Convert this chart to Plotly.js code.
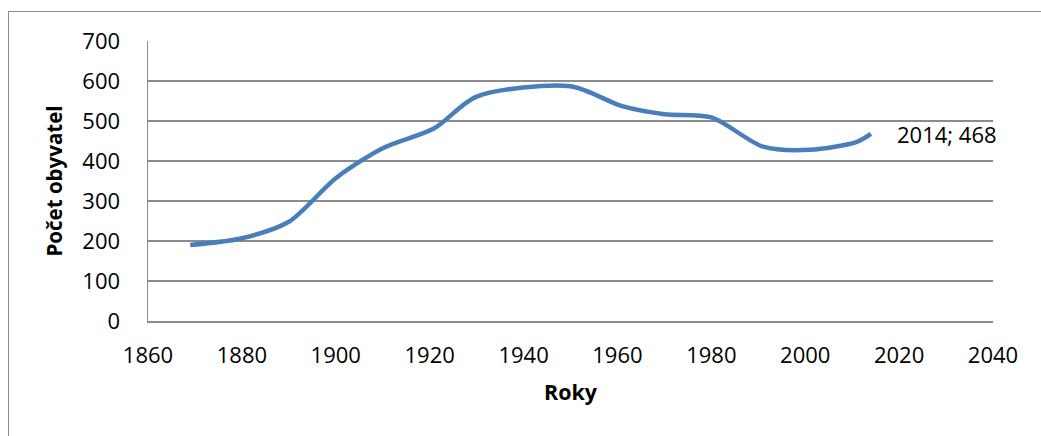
<!DOCTYPE html>
<html>
<head>
<meta charset="utf-8">
<script src="https://cdn.plot.ly/plotly-3.0.1.min.js"></script>
<style>
  html, body { margin: 0; padding: 0; background: #fff; }
  #wrap { position: relative; width: 1041px; height: 436px; overflow: hidden; }
  #chart { position: absolute; left: 0; top: 0; width: 1041px; height: 436px; }
  #frame { position: absolute; left: 8px; top: 11px; width: 1100px; height: 600px;
           border-left: 1.5px solid #8c8c8c; border-top: 1.5px solid #8c8c8c; pointer-events: none; }
</style>
</head>
<body>
<div id="wrap">
  <div id="chart"></div>
  <div id="frame"></div>
</div>
<script>
// Data
const years = [1869, 1880, 1890, 1900, 1910, 1921, 1930, 1950, 1961, 1970, 1980, 1991, 2001, 2011, 2014];
const population = [190, 207, 248, 357, 432, 482, 561, 587, 537, 517, 509, 436, 428, 448, 468];
const xTickValues = [1860, 1880, 1900, 1920, 1940, 1960, 1980, 2000, 2020, 2040];
const yTickValues = [0, 100, 200, 300, 400, 500, 600, 700];
const xTitle = 'Roky';
const yTitle = 'Počet obyvatel';

const lastIdx = years.length - 1;
const FONT = '"Open Sans", "Liberation Sans", sans-serif';

const trace = {
  x: years,
  y: population,
  type: 'scatter',
  mode: 'lines',
  line: { color: '#4a7ebb', width: 4.5, shape: 'spline', smoothing: 0.8 },
  hoverinfo: 'x+y'
};

const layout = {
  width: 1041,
  height: 436,
  autosize: false,
  margin: { l: 148, r: 48, t: 41, b: 115 },
  paper_bgcolor: '#ffffff',
  plot_bgcolor: '#ffffff',
  showlegend: false,
  font: { family: FONT, size: 22, color: '#000' },
  xaxis: {
    range: [1860, 2040],
    tickvals: xTickValues,
    ticktext: xTickValues.map(String),
    showgrid: false,
    zeroline: false,
    showline: true,
    linecolor: '#8c8c8c',
    linewidth: 1.5,
    ticks: '',
    ticklabelstandoff: 14,
    tickfont: { family: FONT, size: 22, color: '#000' },
    title: { text: xTitle, font: { family: FONT, size: 21.5, color: '#000', weight: 'bold' }, standoff: 17 },
    automargin: false
  },
  yaxis: {
    range: [0, 700],
    tickvals: yTickValues,
    ticktext: yTickValues.map(String),
    showgrid: true,
    gridcolor: '#8c8c8c',
    gridwidth: 1.5,
    zeroline: false,
    showline: true,
    linecolor: '#8c8c8c',
    linewidth: 1.5,
    ticks: '',
    ticklabelstandoff: 22,
    tickfont: { family: FONT, size: 22, color: '#000' },
    title: { text: yTitle, font: { family: FONT, size: 20.5, color: '#000', weight: 'bold' }, standoff: 14 },
    automargin: false
  },
  annotations: [{
    x: years[lastIdx],
    y: population[lastIdx],
    xref: 'x',
    yref: 'y',
    text: years[lastIdx] + '; ' + population[lastIdx],
    showarrow: false,
    xanchor: 'left',
    yanchor: 'middle',
    xshift: 24,
    font: { family: FONT, size: 22, color: '#000' }
  }]
};

Plotly.newPlot('chart', [trace], layout, { displayModeBar: false, staticPlot: true });
</script>
</body>
</html>
